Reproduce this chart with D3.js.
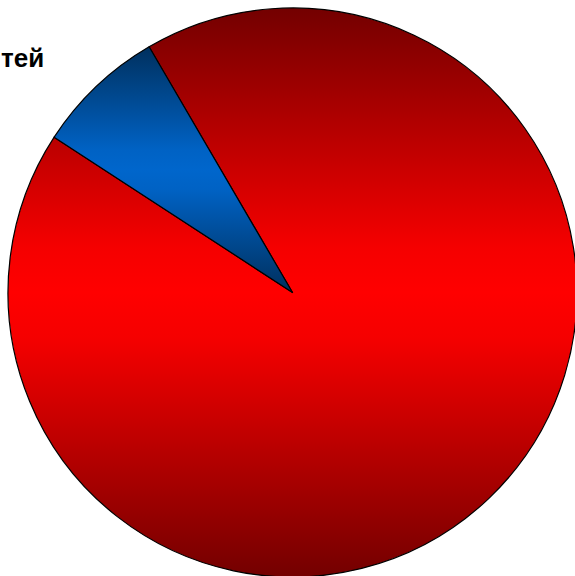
<!DOCTYPE html>
<html>
<head>
<meta charset="utf-8">
<script src="https://cdn.jsdelivr.net/npm/d3@7"></script>
<style>
  body { margin: 0; background: #fff; overflow: hidden; }
</style>
</head>
<body>
<div id="chart"></div>
<script>
// Data
const categories = ["Прочие", "Доля"];
const values = [92.6, 7.4];
const titleText = "тей";

const width = 575, height = 576;
const cx = 292.5, cy = 292.5, radius = 284.5;

// slice colours: [edge, middle]
const colors = [["#730000", "#ff0000"], ["#00305e", "#0066cc"]];

const svg = d3.select("#chart").append("svg")
    .attr("width", width)
    .attr("height", height);

const defs = svg.append("defs");
colors.forEach((c, i) => {
    const grad = defs.append("linearGradient")
        .attr("id", "grad" + i)
        .attr("x1", 0).attr("y1", 0)
        .attr("x2", 0).attr("y2", 1);
    const mid = d3.interpolateRgb(c[0], c[1])(0.93);
    grad.append("stop").attr("offset", "0%").attr("stop-color", c[0]);
    grad.append("stop").attr("offset", "42%").attr("stop-color", mid);
    grad.append("stop").attr("offset", "50%").attr("stop-color", c[1]);
    grad.append("stop").attr("offset", "58%").attr("stop-color", mid);
    grad.append("stop").attr("offset", "100%").attr("stop-color", c[0]);
});

const start = -30.27 * Math.PI / 180;
const pie = d3.pie().sort(null)
    .startAngle(start)
    .endAngle(start + 2 * Math.PI);

const arc = d3.arc().innerRadius(0).outerRadius(radius);

const g = svg.append("g").attr("transform", `translate(${cx},${cy})`);

g.selectAll("path")
    .data(pie(values))
    .enter().append("path")
    .attr("d", arc)
    .attr("fill", (d, i) => `url(#grad${i})`)
    .attr("stroke", "#000")
    .attr("stroke-width", 1.2)
    .attr("stroke-linejoin", "round");

// Title fragment at the top-left corner
svg.append("text")
    .attr("x", 1)
    .attr("y", 67)
    .style("font-family", "Arial, 'Liberation Sans', sans-serif")
    .style("font-weight", "bold")
    .style("font-size", "26px")
    .text(titleText);
</script>
</body>
</html>
